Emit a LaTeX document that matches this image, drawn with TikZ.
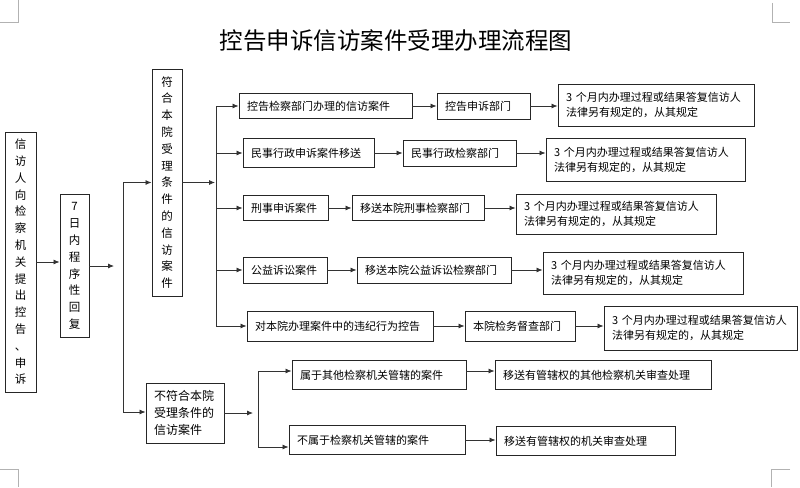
\documentclass[tikz,border=0pt]{standalone}
\usepackage{fontspec}
\setmainfont{Noto Sans CJK SC}
\usetikzlibrary{arrows.meta,positioning,calc}

\begin{document}
\begin{tikzpicture}[x=1pt,y=-1pt,
    >={Latex[length=6pt,width=5pt]},
    box/.style={draw=black!85,line width=0.9pt,inner xsep=8pt,inner ysep=2pt,align=left,font=\fontsize{11}{15}\selectfont},
    vbox/.style={draw=black!85,line width=0.9pt,inner sep=2pt,align=center,font=\fontsize{11.5}{16.8}\selectfont},
    reply/.style={box,minimum height=42},
    link/.style={->,line width=0.8pt,black!80},
    trunk/.style={line width=0.8pt,black!80},
    cropmark/.style={line width=0.9pt,black!30}
  ]
    \fill[white] (0,0) rectangle (800,487);
    \useasboundingbox (0,0) rectangle (800,487);

    % page corner marks
    \draw[cropmark] (0,22) -- (18,22) -- (18,0);
    \draw[cropmark] (772,3) -- (772,22) -- (790,22);
    \draw[cropmark] (0,469) -- (18,469) -- (18,487);
    \draw[cropmark] (790,469) -- (771,469) -- (771,487);

    % Title
    \node[font=\fontsize{23.5}{26}\selectfont] (title) at (396,41) {控告申诉信访案件受理办理流程图};

    % Left column: complaint and 7-day reply
    \node[vbox,minimum width=31,minimum height=260] (src) at (20.5,262) {信\\访\\人\\向\\检\\察\\机\\关\\提\\出\\控\\告\\、\\申\\诉};
    \node[vbox,minimum width=29,minimum height=143] (reply7) at (74.5,266) {7\\日\\内\\程\\序\\性\\回\\复};
    \coordinate (gap1) at (114,266);

    % Split: accepted / not accepted
    \coordinate (fork1) at (123,182.5);
    \coordinate (fork2) at (123,412);
    \node[vbox,minimum width=30,minimum height=227] (accept) at (167,182.5) {符\\合\\本\\院\\受\\理\\条\\件\\的\\信\\访\\案\\件};
    \node[box,font=\fontsize{12}{17}\selectfont,text width=62,minimum height=60] (reject) at (185,413) {不符合本院\\受理条件的\\信访案件};

    % Accepted cases: five branches
    \coordinate (hub) at (215,182.5);
    \coordinate (top) at (216,106);
    \coordinate (bot) at (216,326);

    \node[box,text width=157,minimum height=25] (r1a) at (325.5,106) {控告检察部门办理的信访案件};
    \node[box,text width=77,minimum height=26] (r1b) at (483.5,106) {控告申诉部门};
    \node[reply,text width=180] (r1c) at (656,105) {3~个月内办理过程或结果答复信访人\\法律另有规定的，从其规定};

    \node[box,text width=115,minimum height=29] (r2a) at (308.5,153) {民事行政申诉案件移送};
    \node[box,text width=97,minimum height=26] (r2b) at (459.5,153) {民事行政检察部门};
    \node[reply,text width=183,minimum height=43] (r2c) at (645.5,160) {3~个月内办理过程或结果答复信访人\\法律另有规定的，从其规定};

    \node[box,text width=69,minimum height=25] (r3a) at (285.5,208) {刑事申诉案件};
    \node[box,text width=116,minimum height=25] (r3b) at (418,208) {移送本院刑事检察部门};
    \node[reply,text width=184,minimum height=40] (r3c) at (616,214) {3~个月内办理过程或结果答复信访人\\法律另有规定的，从其规定};

    \node[box,text width=68,minimum height=26] (r4a) at (285,270) {公益诉讼案件};
    \node[box,text width=138,minimum height=26] (r4b) at (434,270) {移送本院公益诉讼检察部门};
    \node[reply,text width=184] (r4c) at (643,273) {3~个月内办理过程或结果答复信访人\\法律另有规定的，从其规定};

    \node[box,text width=170,minimum height=30] (r5a) at (340,326) {对本院办理案件中的违纪行为控告};
    \node[box,text width=94,minimum height=30] (r5b) at (520,326) {本院检务督查部门};
    \node[reply,text width=177,minimum height=44] (r5c) at (700.5,328) {3~个月内办理过程或结果答复信访人\\法律另有规定的，从其规定};

    % Not accepted: two branches
    \coordinate (gap2) at (253,413);
    \coordinate (fork3) at (258,371);
    \coordinate (fork4) at (258,447);
    \node[box,text width=158,minimum height=29] (sub1) at (379,375) {属于其他检察机关管辖的案件};
    \node[box,text width=200,minimum height=29] (out1) at (603,375) {移送有管辖权的其他检察机关审查处理};
    \node[box,text width=160,minimum height=29] (sub2) at (377,440) {不属于检察机关管辖的案件};
    \node[box,text width=163,minimum height=29] (out2) at (585.5,441) {移送有管辖权的机关审查处理};

    % Connections
    \draw[link] (src.east) -- (src.east -| reply7.west);
    \draw[link] (reply7.east) -- (gap1);
    \draw[trunk] (fork1) -- (fork2);
    \draw[link] (fork1) -- (fork1 -| accept.west);
    \draw[link] (fork2) -- (fork2 -| reject.west);

    \draw[link] (accept.east) -- (hub);
    \draw[trunk] (top) -- (bot);
    \foreach \r in {r1a,r2a,r3a,r4a,r5a}
      \draw[link] (top |- \r.west) -- (\r.west);
    \foreach \a/\b in {r1a/r1b,r1b/r1c,r2a/r2b,r2b/r2c,r3a/r3b,r3b/r3c,r4a/r4b,r4b/r4c,r5a/r5b,r5b/r5c}
      \draw[link] (\a.east) -- (\a.east -| \b.west);

    \draw[link] (reject.east) -- (gap2);
    \draw[trunk] (fork3) -- (fork4);
    \draw[link] (fork3) -- (fork3 -| sub1.west);
    \draw[link] (fork4) -- (fork4 -| sub2.west);
    \draw[link] (sub1.east |- fork3) -- (fork3 -| out1.west);
    \draw[link] (sub2.east) -- (sub2.east -| out2.west);
  \end{tikzpicture}
\end{document}
